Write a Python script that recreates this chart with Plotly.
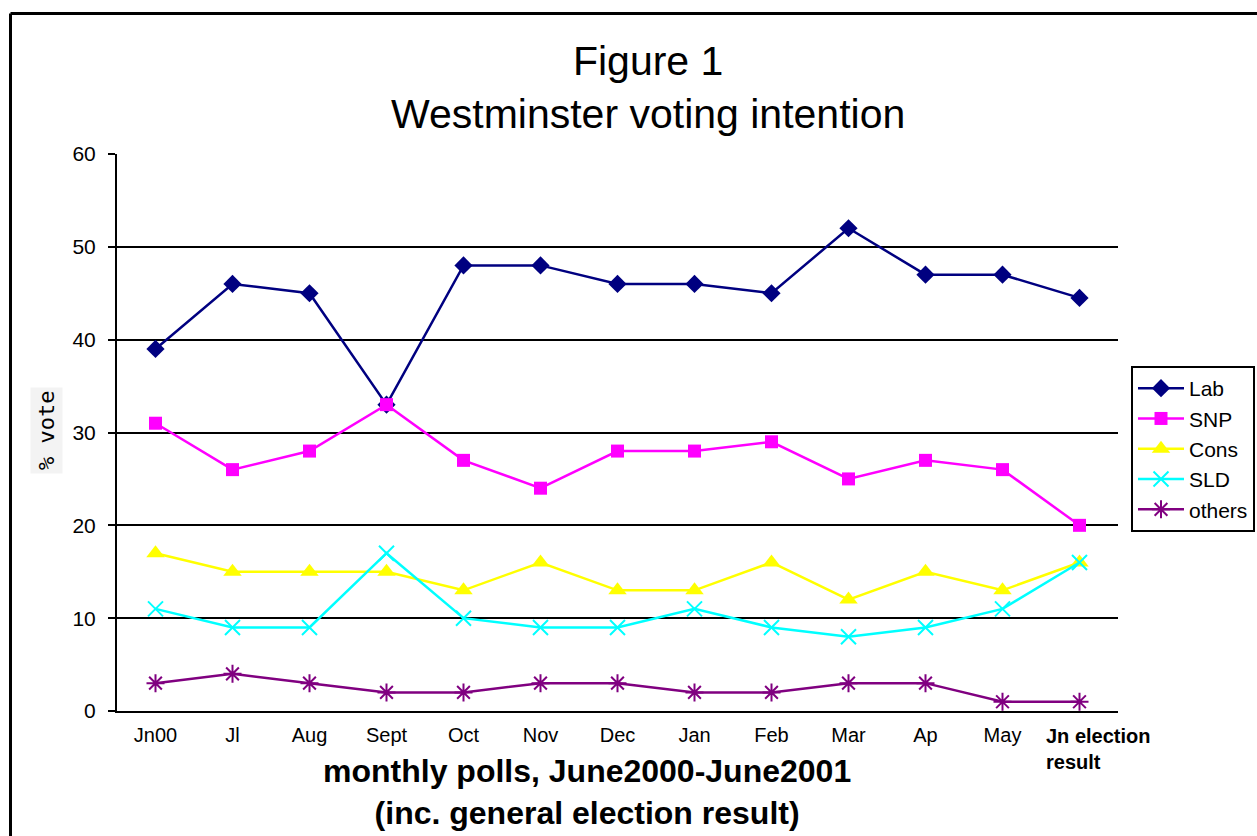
import plotly.graph_objects as go

categories = ["Jn00", "Jl", "Aug", "Sept", "Oct", "Nov", "Dec", "Jan", "Feb", "Mar", "Ap", "May", "Jn election result"]
tick_labels = ["Jn00", "Jl", "Aug", "Sept", "Oct", "Nov", "Dec", "Jan", "Feb", "Mar", "Ap", "May", ""]
last_label = "<b>Jn election</b><br><b>result</b>"

lab = [39, 46, 45, 33, 48, 48, 46, 46, 45, 52, 47, 47, 44.5]
snp = [31, 26, 28, 33, 27, 24, 28, 28, 29, 25, 27, 26, 20]
cons = [17, 15, 15, 15, 13, 16, 13, 13, 16, 12, 15, 13, 16]
sld = [11, 9, 9, 17, 10, 9, 9, 11, 9, 8, 9, 11, 16]
others = [3, 4, 3, 2, 2, 3, 3, 2, 2, 3, 3, 1, 1]

y_ticks = [0, 10, 20, 30, 40, 50, 60]

series = [
    ("Lab", lab, "#000080", "diamond", 14),
    ("SNP", snp, "#FF00FF", "square", 13),
    ("Cons", cons, "#FFFF00", "triangle-up", 16),
    ("SLD", sld, "#00FFFF", "x-thin-open", 15),
    ("others", others, "#800080", "asterisk-open", 15),
]

fig = go.Figure()
for name, vals, color, symbol, size in series:
    marker = dict(symbol=symbol, size=size, color=color)
    if symbol.endswith("-open"):
        marker["line"] = dict(color=color, width=2)
    else:
        marker["line"] = dict(width=0)
    fig.add_trace(go.Scatter(
        x=categories, y=vals, name=name, mode="lines+markers",
        line=dict(color=color, width=2.5), marker=marker,
    ))

W, H = 1257, 836
L, R, T, B = 117, 139, 154, 125
pw, ph = W - L - R, H - T - B

def px_x(p):
    return (p - L) / pw

def px_y(p):
    return (H - B - p) / ph

FONT = "Liberation Sans, Arial, sans-serif"

fig.update_layout(
    width=W, height=H,
    margin=dict(l=L, r=R, t=T, b=B, pad=0, autoexpand=False),
    paper_bgcolor="white", plot_bgcolor="white",
    font=dict(family=FONT, color="black", size=20),
    xaxis=dict(
        type="category", range=[-0.5, 12.5],
        tickmode="array", tickvals=categories, ticktext=tick_labels,
        showline=True, linecolor="black", linewidth=2,
        showgrid=False, ticks="", tickfont=dict(size=20), tickangle=0,
        ticklabelstandoff=5, zeroline=False,
    ),
    yaxis=dict(
        range=[0, 60], tickmode="array", tickvals=y_ticks,
        showline=True, linecolor="black", linewidth=2,
        showgrid=True, gridcolor="black", gridwidth=2,
        ticks="outside", ticklen=7, tickwidth=2, tickcolor="black",
        tickfont=dict(size=21), ticklabelstandoff=8, zeroline=False,
    ),
    legend=dict(
        x=px_x(1131), y=px_y(366), xanchor="left", yanchor="top",
        xref="paper", yref="paper",
        bordercolor="black", borderwidth=2, bgcolor="white",
        font=dict(size=21), tracegroupgap=0, itemwidth=46,
    ),
    showlegend=True,
)

# last category label (left-aligned, bold, two lines)
fig.add_annotation(
    text=last_label, x=categories[-1], xref="x", xshift=-36,
    y=px_y(723), yref="paper", xanchor="left", yanchor="top",
    showarrow=False, align="left",
    font=dict(size=20, color="black", family=FONT),
)

# chart title
fig.add_annotation(
    text="Figure 1<br>Westminster voting intention",
    x=px_x(648), y=px_y(88), xref="paper", yref="paper",
    xanchor="center", yanchor="middle", showarrow=False,
    font=dict(size=41, color="black", family=FONT), align="center",
)

# x axis title
fig.add_annotation(
    text="<b>monthly polls, June2000-June2001</b><br><b>(inc. general election result)</b>",
    x=px_x(587), y=px_y(792), xref="paper", yref="paper",
    xanchor="center", yanchor="middle", showarrow=False,
    font=dict(size=32, color="black", family=FONT), align="center",
)

# y axis title
fig.add_annotation(
    text="% vote", textangle=-90,
    x=px_x(46), y=px_y(431), xref="paper", yref="paper",
    xanchor="center", yanchor="middle", showarrow=False,
    font=dict(size=22, color="black", family="DejaVu Sans Mono, monospace"),
    bgcolor="#f3f3f3", borderpad=3,
)

# outer frame (left and top edges visible)
fig.add_shape(type="line", xref="paper", yref="paper",
              x0=px_x(10.5), x1=px_x(10.5), y0=px_y(13.5), y1=px_y(900),
              line=dict(color="black", width=3))
fig.add_shape(type="line", xref="paper", yref="paper",
              x0=px_x(10.5), x1=px_x(1300), y0=px_y(13.5), y1=px_y(13.5),
              line=dict(color="black", width=3))

fig.write_html("out.html")
